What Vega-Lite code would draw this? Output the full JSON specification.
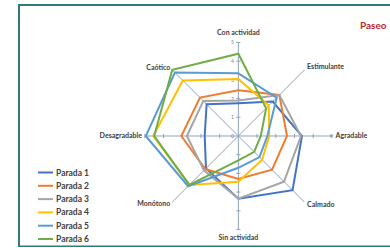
{
  "$schema": "https://vega.github.io/schema/vega-lite/v6.json",
  "width": 380,
  "height": 241.5,
  "autosize": {"type": "none"},
  "padding": {"left": 19, "top": 5, "right": 0, "bottom": 0},
  "background": "white",
  "config": {"view": {"stroke": "#2E7B78", "strokeWidth": 2}},
  "title": {"text": "Paseo", "anchor": "start", "frame": "group", "orient": "top", "dx": 341, "dy": 31, "offset": 0, "baseline": "middle", "font": "Lato", "fontSize": 10, "fontWeight": "bold", "color": "#C0272D"},
  "datasets": {
    "ejes": [
      {"eje": "Con actividad", "i": 0},
      {"eje": "Estimulante", "i": 1},
      {"eje": "Agradable", "i": 2},
      {"eje": "Calmado", "i": 3},
      {"eje": "Sin actividad", "i": 4},
      {"eje": "Monótono", "i": 5},
      {"eje": "Desagradable", "i": 6},
      {"eje": "Caótico", "i": 7}
    ],
    "marcas": [
      {"k": -5}, {"k": -4}, {"k": -3}, {"k": -2}, {"k": -1}, {"k": 0},
      {"k": 1}, {"k": 2}, {"k": 3}, {"k": 4}, {"k": 5}
    ],
    "vals": [
      {"p": "Parada 1", "eje": "Con actividad", "v": 1.75},
      {"p": "Parada 1", "eje": "Estimulante", "v": 2.6},
      {"p": "Parada 1", "eje": "Agradable", "v": 3.4},
      {"p": "Parada 1", "eje": "Calmado", "v": 4.1},
      {"p": "Parada 1", "eje": "Sin actividad", "v": 3.35},
      {"p": "Parada 1", "eje": "Monótono", "v": 2.45},
      {"p": "Parada 1", "eje": "Desagradable", "v": 1.8},
      {"p": "Parada 1", "eje": "Caótico", "v": 2.4},
      {"p": "Parada 2", "eje": "Con actividad", "v": 2.45},
      {"p": "Parada 2", "eje": "Estimulante", "v": 3.1},
      {"p": "Parada 2", "eje": "Agradable", "v": 2.6},
      {"p": "Parada 2", "eje": "Calmado", "v": 2.55},
      {"p": "Parada 2", "eje": "Sin actividad", "v": 2.3},
      {"p": "Parada 2", "eje": "Monótono", "v": 2.5},
      {"p": "Parada 2", "eje": "Desagradable", "v": 3.05},
      {"p": "Parada 2", "eje": "Caótico", "v": 2.9},
      {"p": "Parada 3", "eje": "Con actividad", "v": 1.9},
      {"p": "Parada 3", "eje": "Estimulante", "v": 3.1},
      {"p": "Parada 3", "eje": "Agradable", "v": 3.35},
      {"p": "Parada 3", "eje": "Calmado", "v": 3.45},
      {"p": "Parada 3", "eje": "Sin actividad", "v": 3.35},
      {"p": "Parada 3", "eje": "Monótono", "v": 2.6},
      {"p": "Parada 3", "eje": "Desagradable", "v": 2.75},
      {"p": "Parada 3", "eje": "Caótico", "v": 2.65},
      {"p": "Parada 4", "eje": "Con actividad", "v": 3.05},
      {"p": "Parada 4", "eje": "Estimulante", "v": 2.3},
      {"p": "Parada 4", "eje": "Agradable", "v": 1.65},
      {"p": "Parada 4", "eje": "Calmado", "v": 1.8},
      {"p": "Parada 4", "eje": "Sin actividad", "v": 2.45},
      {"p": "Parada 4", "eje": "Monótono", "v": 3.7},
      {"p": "Parada 4", "eje": "Desagradable", "v": 4.55},
      {"p": "Parada 4", "eje": "Caótico", "v": 4.2},
      {"p": "Parada 5", "eje": "Con actividad", "v": 3.35},
      {"p": "Parada 5", "eje": "Estimulante", "v": 2.9},
      {"p": "Parada 5", "eje": "Agradable", "v": 1.55},
      {"p": "Parada 5", "eje": "Calmado", "v": 1.6},
      {"p": "Parada 5", "eje": "Sin actividad", "v": 1.7},
      {"p": "Parada 5", "eje": "Monótono", "v": 3.8},
      {"p": "Parada 5", "eje": "Desagradable", "v": 4.95},
      {"p": "Parada 5", "eje": "Caótico", "v": 4.8},
      {"p": "Parada 6", "eje": "Con actividad", "v": 4.4},
      {"p": "Parada 6", "eje": "Estimulante", "v": 2.1},
      {"p": "Parada 6", "eje": "Agradable", "v": 1.2},
      {"p": "Parada 6", "eje": "Calmado", "v": 1.2},
      {"p": "Parada 6", "eje": "Sin actividad", "v": 1.3},
      {"p": "Parada 6", "eje": "Monótono", "v": 3.7},
      {"p": "Parada 6", "eje": "Desagradable", "v": 4.5},
      {"p": "Parada 6", "eje": "Caótico", "v": 5.0}
    ]
  },
  "layer": [
    {
      "data": {"name": "ejes"},
      "transform": [
        {"calculate": "PI/2 - datum.i*PI/4", "as": "a"},
        {"calculate": "0", "as": "x"},
        {"calculate": "0", "as": "y"},
        {"calculate": "5*cos(datum.a)", "as": "ex"},
        {"calculate": "5*sin(datum.a)", "as": "ey"}
      ],
      "mark": {"type": "rule", "color": "#8FA3BF", "strokeWidth": 1},
      "encoding": {
        "x": {"field": "x", "type": "quantitative", "scale": {"domain": [-11.73, 8.59], "nice": false, "zero": false}, "axis": null},
        "y": {"field": "y", "type": "quantitative", "scale": {"domain": [-5.91, 7.005], "nice": false, "zero": false}, "axis": null},
        "x2": {"field": "ex"},
        "y2": {"field": "ey"}
      }
    },
    {
      "data": {"name": "marcas"},
      "transform": [
        {"filter": "datum.k != 0"},
        {"calculate": "-0.11", "as": "y"},
        {"calculate": "0.11", "as": "y2"}
      ],
      "mark": {"type": "rule", "color": "#8FA3BF", "strokeWidth": 1},
      "encoding": {
        "x": {"field": "k", "type": "quantitative", "scale": {"domain": [-11.73, 8.59], "nice": false, "zero": false}, "axis": null},
        "y": {"field": "y", "type": "quantitative", "scale": {"domain": [-5.91, 7.005], "nice": false, "zero": false}, "axis": null},
        "y2": {"field": "y2"}
      }
    },
    {
      "data": {"name": "marcas"},
      "transform": [
        {"filter": "datum.k != 0"},
        {"calculate": "-0.11", "as": "x"},
        {"calculate": "0.11", "as": "x2"}
      ],
      "mark": {"type": "rule", "color": "#8FA3BF", "strokeWidth": 1},
      "encoding": {
        "y": {"field": "k", "type": "quantitative", "scale": {"domain": [-5.91, 7.005], "nice": false, "zero": false}, "axis": null},
        "x": {"field": "x", "type": "quantitative", "scale": {"domain": [-11.73, 8.59], "nice": false, "zero": false}, "axis": null},
        "x2": {"field": "x2"}
      }
    },
    {
      "data": {"name": "marcas"},
      "transform": [
        {"filter": "datum.k >= 0"},
        {"calculate": "-0.32", "as": "x"}
      ],
      "mark": {"type": "text", "font": "Lato", "fontSize": 5, "color": "#7F7F7F", "align": "center", "baseline": "middle"},
      "encoding": {
        "y": {"field": "k", "type": "quantitative", "scale": {"domain": [-5.91, 7.005], "nice": false, "zero": false}, "axis": null},
        "x": {"field": "x", "type": "quantitative", "scale": {"domain": [-11.73, 8.59], "nice": false, "zero": false}, "axis": null},
        "text": {"field": "k", "type": "quantitative"}
      }
    },
    {
      "data": {"name": "ejes"},
      "transform": [
        {"filter": "datum.i == 2"},
        {"calculate": "5", "as": "x"},
        {"calculate": "0", "as": "y"}
      ],
      "mark": {"type": "point", "shape": "triangle-right", "filled": true, "size": 14, "color": "#8FA3BF", "opacity": 1},
      "encoding": {
        "x": {"field": "x", "type": "quantitative", "scale": {"domain": [-11.73, 8.59], "nice": false, "zero": false}, "axis": null},
        "y": {"field": "y", "type": "quantitative", "scale": {"domain": [-5.91, 7.005], "nice": false, "zero": false}, "axis": null}
      }
    },
    {
      "data": {"name": "vals"},
      "transform": [
        {"lookup": "eje", "from": {"data": {"name": "ejes"}, "key": "eje", "fields": ["i"]}},
        {"calculate": "PI/2 - datum.i*PI/4", "as": "a"},
        {"calculate": "datum.v*cos(datum.a)", "as": "x"},
        {"calculate": "datum.v*sin(datum.a)", "as": "y"}
      ],
      "mark": {"type": "line", "interpolate": "linear-closed", "strokeWidth": 2},
      "encoding": {
        "x": {"field": "x", "type": "quantitative", "scale": {"domain": [-11.73, 8.59], "nice": false, "zero": false}, "axis": null},
        "y": {"field": "y", "type": "quantitative", "scale": {"domain": [-5.91, 7.005], "nice": false, "zero": false}, "axis": null},
        "order": {"field": "i", "type": "quantitative"},
        "color": {
          "field": "p", "type": "nominal",
          "scale": {"domain": ["Parada 1", "Parada 2", "Parada 3", "Parada 4", "Parada 5", "Parada 6"], "range": ["#4472C4", "#ED7D31", "#A5A5A5", "#FFC000", "#5B9BD5", "#70AD47"]},
          "legend": {"orient": "none", "legendX": 18, "legendY": 159, "title": null, "symbolType": "stroke", "symbolStrokeWidth": 2, "symbolSize": 225, "labelFont": "Lato", "labelFontWeight": "bold", "labelFontSize": 8.5, "labelColor": "#404040", "rowPadding": 0.3, "labelOffset": 2, "padding": 0}
        }
      }
    },
    {
      "data": {"name": "ejes"},
      "transform": [
        {"filter": "datum.i >= 1 && datum.i <= 3"},
        {"calculate": "PI/2 - datum.i*PI/4", "as": "a"},
        {"calculate": "5.2*cos(datum.a)", "as": "x"},
        {"calculate": "5.2*sin(datum.a)", "as": "y"}
      ],
      "mark": {"type": "text", "font": "Lato", "fontSize": 7, "fontWeight": "bold", "color": "#404040", "align": "left", "baseline": "middle"},
      "encoding": {
        "x": {"field": "x", "type": "quantitative", "scale": {"domain": [-11.73, 8.59], "nice": false, "zero": false}, "axis": null},
        "y": {"field": "y", "type": "quantitative", "scale": {"domain": [-5.91, 7.005], "nice": false, "zero": false}, "axis": null},
        "text": {"field": "eje", "type": "nominal"}
      }
    },
    {
      "data": {"name": "ejes"},
      "transform": [
        {"filter": "datum.i >= 5"},
        {"calculate": "PI/2 - datum.i*PI/4", "as": "a"},
        {"calculate": "5.15*cos(datum.a)", "as": "x"},
        {"calculate": "5.15*sin(datum.a)", "as": "y"}
      ],
      "mark": {"type": "text", "font": "Lato", "fontSize": 7, "fontWeight": "bold", "color": "#404040", "align": "right", "baseline": "middle"},
      "encoding": {
        "x": {"field": "x", "type": "quantitative", "scale": {"domain": [-11.73, 8.59], "nice": false, "zero": false}, "axis": null},
        "y": {"field": "y", "type": "quantitative", "scale": {"domain": [-5.91, 7.005], "nice": false, "zero": false}, "axis": null},
        "text": {"field": "eje", "type": "nominal"}
      }
    },
    {
      "data": {"name": "ejes"},
      "transform": [
        {"filter": "datum.i == 0 || datum.i == 4"},
        {"calculate": "0", "as": "x"},
        {"calculate": "datum.i == 0 ? 5.5 : -5.45", "as": "y"}
      ],
      "mark": {"type": "text", "font": "Lato", "fontSize": 7, "fontWeight": "bold", "color": "#404040", "align": "center", "baseline": "middle"},
      "encoding": {
        "x": {"field": "x", "type": "quantitative", "scale": {"domain": [-11.73, 8.59], "nice": false, "zero": false}, "axis": null},
        "y": {"field": "y", "type": "quantitative", "scale": {"domain": [-5.91, 7.005], "nice": false, "zero": false}, "axis": null},
        "text": {"field": "eje", "type": "nominal"}
      }
    }
  ]
}
